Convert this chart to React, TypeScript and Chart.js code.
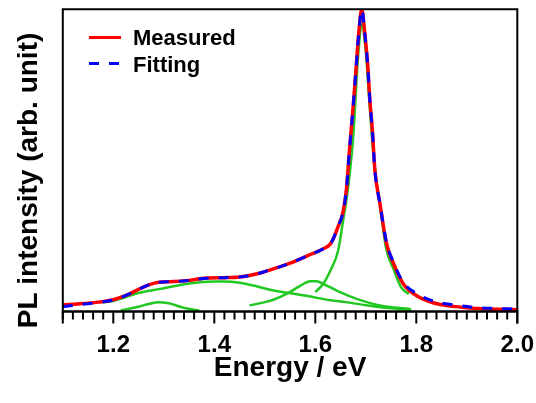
import React, { useEffect, useRef } from 'react';
import { Chart, registerables } from 'chart.js';

Chart.register(...registerables);

// ---------- data ----------
const measuredEnergy = [1.10, 1.13, 1.17, 1.20, 1.225, 1.25, 1.27, 1.29, 1.32, 1.35, 1.385, 1.42, 1.45, 1.485, 1.515, 1.55, 1.585, 1.615, 1.63, 1.637, 1.645, 1.655, 1.662, 1.667, 1.672, 1.676, 1.681, 1.686, 1.692, 1.698, 1.704, 1.708, 1.713, 1.718, 1.728, 1.741, 1.755, 1.774, 1.80, 1.835, 1.873, 1.92, 2.0];
const measuredIntensity = [0.022, 0.025, 0.031, 0.039, 0.053, 0.073, 0.088, 0.097, 0.099, 0.103, 0.111, 0.112, 0.114, 0.125, 0.14, 0.16, 0.185, 0.207, 0.224, 0.246, 0.28, 0.33, 0.41, 0.52, 0.62, 0.70, 0.81, 0.92, 1.0, 0.92, 0.81, 0.70, 0.60, 0.467, 0.357, 0.225, 0.158, 0.092, 0.053, 0.028, 0.017, 0.01, 0.006];

const fittingEnergy = [1.10, 1.13, 1.17, 1.20, 1.225, 1.25, 1.27, 1.29, 1.32, 1.35, 1.385, 1.42, 1.45, 1.485, 1.515, 1.55, 1.585, 1.615, 1.63, 1.637, 1.645, 1.655, 1.662, 1.667, 1.672, 1.676, 1.681, 1.686, 1.692, 1.698, 1.704, 1.708, 1.713, 1.718, 1.728, 1.741, 1.755, 1.774, 1.80, 1.835, 1.873, 1.92, 2.0];
const fittingIntensity = [0.016, 0.022, 0.03, 0.038, 0.053, 0.073, 0.088, 0.097, 0.099, 0.103, 0.11, 0.112, 0.114, 0.125, 0.14, 0.16, 0.185, 0.207, 0.224, 0.246, 0.28, 0.33, 0.41, 0.52, 0.62, 0.70, 0.81, 0.92, 1.0, 0.92, 0.81, 0.70, 0.60, 0.467, 0.357, 0.228, 0.162, 0.097, 0.06, 0.034, 0.022, 0.013, 0.008];

const peak1Energy = [1.215, 1.25, 1.27, 1.29, 1.31, 1.34, 1.37];
const peak1Intensity = [0.004, 0.016, 0.025, 0.031, 0.027, 0.012, 0.003];

const peak2Energy = [1.18, 1.20, 1.25, 1.29, 1.35, 1.40, 1.42, 1.45, 1.485, 1.515, 1.545, 1.585, 1.63, 1.66, 1.70, 1.73, 1.79];
const peak2Intensity = [0.03, 0.035, 0.061, 0.074, 0.093, 0.099, 0.099, 0.095, 0.083, 0.07, 0.062, 0.051, 0.037, 0.031, 0.021, 0.014, 0.006];

const peak3Energy = [1.47, 1.50, 1.517, 1.545, 1.57, 1.59, 1.603, 1.616, 1.63, 1.649, 1.682, 1.728, 1.788];
const peak3Intensity = [0.02, 0.031, 0.039, 0.06, 0.085, 0.1, 0.1, 0.091, 0.08, 0.064, 0.042, 0.02, 0.008];

const peak4Energy = [1.60, 1.615, 1.63, 1.645, 1.655, 1.665, 1.675, 1.685, 1.692, 1.70, 1.706, 1.715, 1.722, 1.73, 1.74, 1.755, 1.77, 1.785];
const peak4Intensity = [0.064, 0.09, 0.136, 0.2, 0.3, 0.41, 0.577, 0.85, 0.95, 0.86, 0.72, 0.52, 0.42, 0.33, 0.21, 0.14, 0.08, 0.058];

const majorTickValues = [1.2, 1.4, 1.6, 1.8, 2.0];
const majorTickLabels = ['1.2', '1.4', '1.6', '1.8', '2.0'];
const xMin = 1.1;
const xMax = 2.0;
const minorStep = 0.02;

const seriesLabels = ['Measured', 'Fitting'];
const xTitle = 'Energy / eV';
const yTitle = 'PL intensity (arb. unit)';

const FONT = "'Liberation Sans', Arial, Helvetica, sans-serif";
const RED = '#ff0000';
const BLUE = '#0000ff';
const GREEN = '#22c822';

function toPoints(xs: number[], ys: number[]) {
  return xs.map((x, i) => ({ x, y: ys[i] }));
}

const decorPlugin = {
  id: 'decor',
  afterDatasetsDraw(chart: any) {
    const { ctx, chartArea: a, scales } = chart;
    const xs = scales.x;
    ctx.save();
    ctx.strokeStyle = '#000';
    ctx.lineCap = 'butt';
    // frame
    ctx.lineWidth = 2;
    ctx.beginPath();
    ctx.moveTo(a.left, a.bottom + 12);
    ctx.lineTo(a.left, a.top);
    ctx.lineTo(a.right, a.top);
    ctx.lineTo(a.right, a.bottom + 12);
    ctx.stroke();
    // bottom axis line
    ctx.lineWidth = 2.5;
    ctx.beginPath();
    ctx.moveTo(a.left - 1, a.bottom);
    ctx.lineTo(a.right + 1, a.bottom);
    ctx.stroke();
    // ticks
    ctx.lineWidth = 2;
    const n = Math.round((xMax - xMin) / minorStep);
    for (let i = 0; i <= n; i++) {
      const v = xMin + i * minorStep;
      const isMajor = majorTickValues.some((m) => Math.abs(m - v) < 1e-6);
      const px = xs.getPixelForValue(v);
      ctx.beginPath();
      ctx.moveTo(px, a.bottom);
      ctx.lineTo(px, a.bottom + (isMajor ? 12 : 8));
      ctx.stroke();
    }
    ctx.restore();
  },
  afterDraw(chart: any) {
    const { ctx } = chart;
    ctx.save();
    // legend
    ctx.lineWidth = 3;
    ctx.strokeStyle = RED;
    ctx.beginPath();
    ctx.moveTo(89, 37.5);
    ctx.lineTo(121, 37.5);
    ctx.stroke();
    ctx.strokeStyle = BLUE;
    ctx.setLineDash([10, 10]);
    ctx.beginPath();
    ctx.moveTo(89, 63.5);
    ctx.lineTo(121, 63.5);
    ctx.stroke();
    ctx.setLineDash([]);
    ctx.fillStyle = '#000';
    ctx.font = `bold 22px ${FONT}`;
    ctx.textAlign = 'left';
    ctx.textBaseline = 'alphabetic';
    ctx.fillText(seriesLabels[0], 133, 45);
    ctx.fillText(seriesLabels[1], 133, 71.5);
    // y title
    ctx.translate(36.7, 180.5);
    ctx.rotate(-Math.PI / 2);
    ctx.font = `bold 28px ${FONT}`;
    ctx.textAlign = 'center';
    ctx.fillText(yTitle, 0, 0);
    ctx.restore();
  },
};

export default function App() {
  const canvasRef = useRef<HTMLCanvasElement | null>(null);

  useEffect(() => {
    const canvas = canvasRef.current;
    if (!canvas) return;
    const common = { pointRadius: 0, pointHoverRadius: 0, fill: false, cubicInterpolationMode: 'monotone' as const };
    const chart = new Chart(canvas, {
      type: 'line',
      data: {
        datasets: [
          { ...common, label: seriesLabels[1], data: toPoints(fittingEnergy, fittingIntensity), borderColor: BLUE, borderWidth: 3, borderDash: [10, 10] },
          { ...common, label: seriesLabels[0], data: toPoints(measuredEnergy, measuredIntensity), borderColor: RED, borderWidth: 3.5 },
          { ...common, label: 'Peak 4', data: toPoints(peak4Energy, peak4Intensity), borderColor: GREEN, borderWidth: 2.5 },
          { ...common, label: 'Peak 3', data: toPoints(peak3Energy, peak3Intensity), borderColor: GREEN, borderWidth: 2.5 },
          { ...common, label: 'Peak 2', data: toPoints(peak2Energy, peak2Intensity), borderColor: GREEN, borderWidth: 2.5 },
          { ...common, label: 'Peak 1', data: toPoints(peak1Energy, peak1Intensity), borderColor: GREEN, borderWidth: 2.5 },
        ],
      },
      options: {
        animation: false,
        responsive: false,
        devicePixelRatio: 1,
        layout: { padding: { left: 62.8, top: 9.3, right: 18.7, bottom: 0 } },
        plugins: { legend: { display: false }, tooltip: { enabled: false } },
        events: [],
        scales: {
          x: {
            type: 'linear',
            min: xMin,
            max: xMax,
            afterBuildTicks: (scale: any) => {
              scale.ticks = majorTickValues.map((v) => ({ value: v }));
            },
            afterFit: (scale: any) => {
              scale.height = 91.5;
              scale.paddingLeft = 0;
              scale.paddingRight = 0;
            },
            grid: { display: false, drawTicks: false, tickLength: 0 },
            border: { display: false },
            ticks: {
              autoSkip: false,
              maxRotation: 0,
              padding: 19,
              color: '#000',
              font: { family: FONT, size: 24, weight: 'bold' },
              callback: (_v: any, i: number) => majorTickLabels[i],
            },
            title: {
              display: true,
              text: xTitle,
              color: '#000',
              font: { family: FONT, size: 28, weight: 'bold' },
              padding: { top: 0, bottom: 18 },
            },
          },
          y: {
            type: 'linear',
            display: false,
            min: 0,
            max: 1,
          },
        },
      },
      plugins: [decorPlugin],
    });
    return () => chart.destroy();
  }, []);

  return (
    <div style={{ position: 'absolute', left: 0, top: 0, width: 536, height: 403, background: '#fff' }}>
      <canvas ref={canvasRef} width={536} height={403} />
    </div>
  );
}
